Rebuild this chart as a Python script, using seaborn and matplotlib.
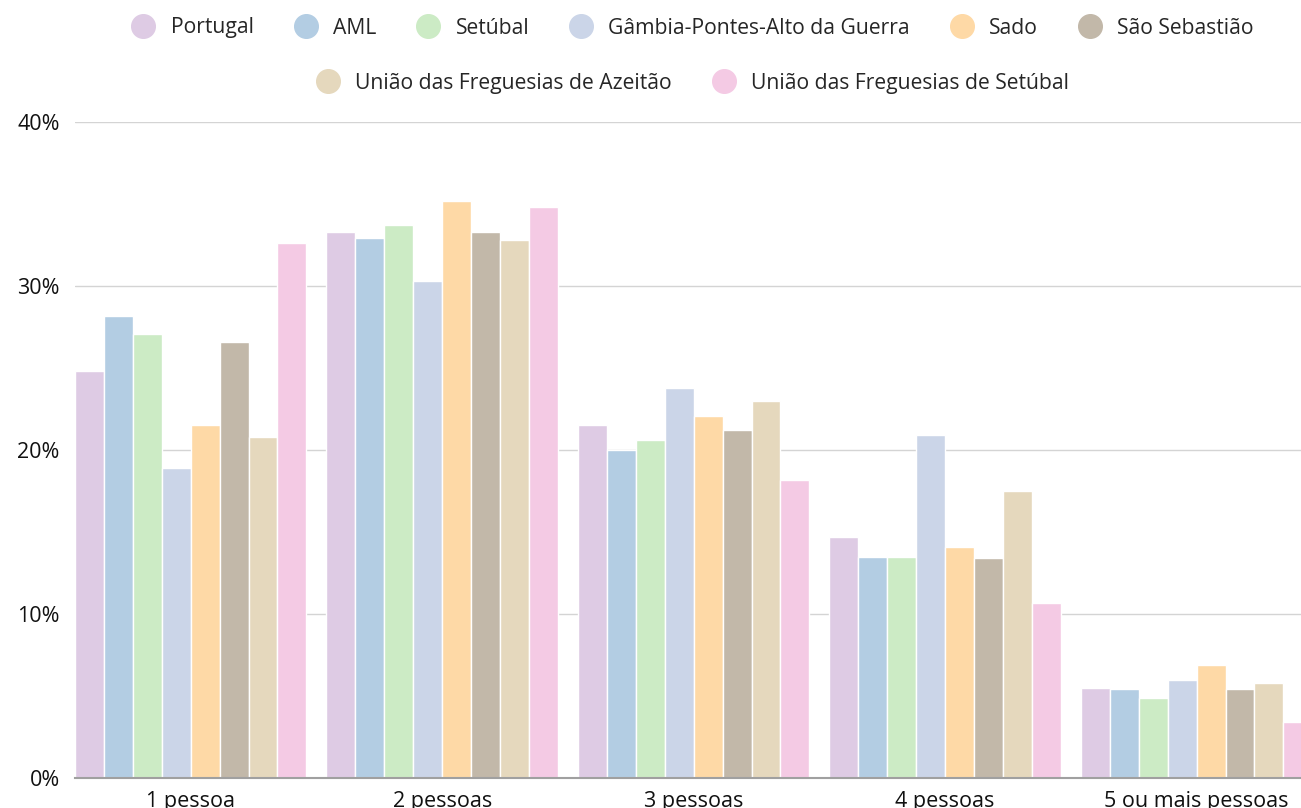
import pandas as pd
import matplotlib
matplotlib.use("Agg")
import matplotlib.pyplot as plt
import seaborn as sns
from matplotlib.lines import Line2D

# categories and series
categorias = ['1 pessoa', '2 pessoas', '3 pessoas', '4 pessoas', '5 ou mais pessoas']
zonas = ['Portugal', 'AML', 'Setúbal', 'Gâmbia-Pontes-Alto da Guerra', 'Sado',
         'São Sebastião', 'União das Freguesias de Azeitão', 'União das Freguesias de Setúbal']

# values (%)
portugal = [24.8, 33.3, 21.5, 14.7, 5.5]
aml = [28.2, 32.9, 20.0, 13.5, 5.4]
setubal = [27.1, 33.7, 20.6, 13.5, 4.9]
gambia = [18.9, 30.3, 23.8, 20.9, 6.0]
sado = [21.5, 35.2, 22.1, 14.1, 6.9]
sao_sebastiao = [26.6, 33.3, 21.2, 13.4, 5.4]
azeitao = [20.8, 32.8, 23.0, 17.5, 5.8]
uf_setubal = [32.6, 34.8, 18.2, 10.7, 3.4]

cores = ['#decbe4', '#b3cde3', '#ccebc5', '#cbd5e8', '#fed9a6', '#c2b8a9', '#e5d8bd', '#f4cae4']

valores = [portugal, aml, setubal, gambia, sado, sao_sebastiao, azeitao, uf_setubal]
linhas = []
for z, vals in zip(zonas, valores):
    for c, v in zip(categorias, vals):
        linhas.append({'Dimensão': c, 'Zona': z, 'Valor': v})
df = pd.DataFrame(linhas)

sns.set_style('white')
plt.rcParams['font.family'] = ['Open Sans', 'DejaVu Sans']

fig = plt.figure(figsize=(13.01, 8.08), dpi=100)
ax = fig.add_axes([75/1301, 30/808, 1 - 75/1301, (778-122)/808])

sns.barplot(data=df, x='Dimensão', y='Valor', hue='Zona', order=categorias, hue_order=zonas,
            palette=cores, width=0.92, edgecolor='white', linewidth=1, saturation=1,
            legend=False, ax=ax)

ax.set_xlim(-0.46, 4.415)
ax.set_ylim(0, 40)
ax.set_yticks([0, 10, 20, 30, 40])
ax.set_yticklabels([f'{t}%' for t in [0, 10, 20, 30, 40]])
ax.yaxis.grid(True, color='#d4d4d4', linewidth=1)
ax.set_axisbelow(True)
for s in ['top', 'right', 'left']:
    ax.spines[s].set_visible(False)
ax.spines['bottom'].set_color('#a0a0a0')
ax.spines['bottom'].set_linewidth(1.5)
ax.tick_params(axis='y', length=0, pad=11, labelsize=15.5, labelcolor='#111111')
ax.tick_params(axis='x', length=0, pad=9, labelsize=15.5, labelcolor='#111111')
ax.set_xlabel('')
ax.set_ylabel('')

# legend in two rows, centred over the plot area
handles = [Line2D([], [], marker='o', linestyle='', markersize=17, markerfacecolor=c,
                  markeredgecolor=c) for c in cores]
cx = 688 / 1301
fig.legend(handles[:6], zonas[:6], loc='center', bbox_to_anchor=(cx, 1 - 28/808),
           ncol=6, frameon=False, fontsize=15.2, handletextpad=0.3, columnspacing=1.45)
fig.legend(handles[6:], zonas[6:], loc='center', bbox_to_anchor=(cx, 1 - 83/808),
           ncol=2, frameon=False, fontsize=15.2, handletextpad=0.3, columnspacing=1.45)

fig.savefig('out.png', dpi=100)
